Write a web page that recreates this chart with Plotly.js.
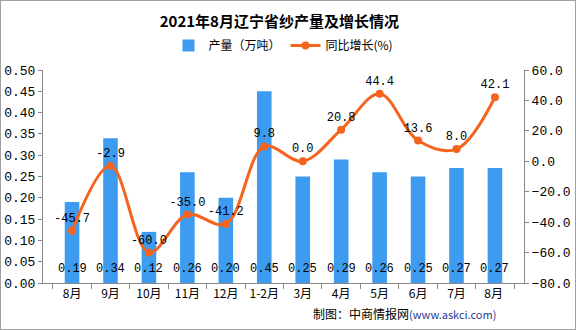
<!DOCTYPE html>
<html><head><meta charset="utf-8">
<script src="https://cdn.plot.ly/plotly-3.0.1.min.js"></script>
<style>
html,body{margin:0;padding:0;background:#fff;}
#frame{position:absolute;left:0;top:0;width:574px;height:328px;border:1px solid #a0a0a0;}
#chart{position:absolute;left:0;top:0;width:576px;height:330px;}
</style></head>
<body>
<div id="frame"></div>
<div id="chart"></div>
<script>
const categories = ['8月','9月','10月','11月','12月','1-2月','3月','4月','5月','6月','7月','8月'];
const catKeys = categories.map((c,i)=> i===categories.length-1 ? '8月 ' : c);
const output = [0.19,0.34,0.12,0.26,0.20,0.45,0.25,0.29,0.26,0.25,0.27,0.27];
const growth = [-45.7,-2.9,-60.0,-35.0,-41.2,9.8,0.0,20.8,44.4,13.6,8.0,42.1];

const mono = '"Liberation Mono","DejaVu Sans Mono",monospace';
const numFont = {family:mono, size:12, color:'#000'};
const tickNumFont = {family:mono, size:13, color:'#000'};
const cjk = '"Noto Sans CJK SC","Noto Sans",sans-serif';

const traces = [
  {type:'bar', name:'产量（万吨）', x:catKeys, y:output, marker:{color:'#3d9cf0'}, yaxis:'y', hoverinfo:'skip'},
  {type:'scatter', mode:'lines+markers+text', name:'同比增长(%)', x:catKeys, y:growth, yaxis:'y2',
   line:{color:'#f5641e', width:3, shape:'spline', smoothing:1},
   marker:{color:'#f5641e', size:8},
   text:growth.map(v=>v.toFixed(1)), textposition:'top center', textfont:numFont, cliponaxis:false}
];

const annotations = catKeys.map((c,i)=>({x:c, y:0, xref:'x', yref:'y', text:output[i].toFixed(2),
  showarrow:false, yanchor:'bottom', yshift:5, font:numFont}));
annotations.push({xref:'paper', yref:'paper', x:0.945, y:-0.141, xanchor:'right', yanchor:'middle', showarrow:false,
  text:'制图：中商情报网<span style="color:#1f3d99;font-size:11px">(www.askci.com)</span>',
  font:{family:cjk, size:12, color:'#000'}});

const layout = {
  width:576, height:330,
  margin:{l:43, r:52, t:70, b:47},
  paper_bgcolor:'rgba(0,0,0,0)', plot_bgcolor:'rgba(0,0,0,0)',
  title:{text:'<b>2021年8月辽宁省纱产量及增长情况</b>', x:0.485, xanchor:'center', y:0.935, yanchor:'middle',
    font:{family:cjk, size:15, color:'#000'}},
  showlegend:true,
  legend:{orientation:'h', x:0.5, xanchor:'center', y:1.115, yanchor:'middle', font:{family:cjk, size:12, color:'#000'},
    itemwidth:30, traceorder:'normal'},
  bargap:0.62,
  xaxis:{type:'category', showline:true, linecolor:'#888', ticks:'outside', tickson:'boundaries', ticklen:5, tickcolor:'#888',
    tickangle:0, tickfont:{family:cjk, size:12, color:'#000'}, showgrid:false, fixedrange:true},
  yaxis:{range:[0,0.5], dtick:0.05, tickformat:'.2f', showline:true, linecolor:'#888', ticks:'outside', ticklen:4, tickcolor:'#888',
    showgrid:false, zeroline:false, tickfont:tickNumFont},
  yaxis2:{range:[-80,60], dtick:20, tickformat:'.1f', overlaying:'y', side:'right', showline:true, linecolor:'#888',
    ticks:'outside', ticklen:4, tickcolor:'#888', showgrid:false, zeroline:false, tickfont:tickNumFont},
  annotations:annotations
};
Plotly.newPlot('chart', traces, layout, {displayModeBar:false, staticPlot:true});
</script>
</body></html>
